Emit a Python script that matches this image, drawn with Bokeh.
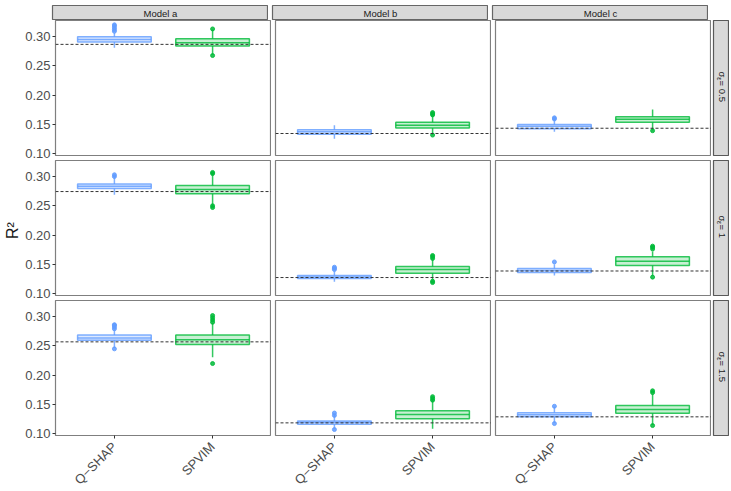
import math
from bokeh.plotting import figure
from bokeh.models import FactorRange, Range1d, Span, ColumnDataSource, FixedTicker, PrintfTickFormatter
from bokeh.layouts import row, column
from bokeh.core.properties import value
from bokeh.embed import file_html
from bokeh.resources import INLINE

# ---------------- data ----------------
models = ["Model a", "Model b", "Model c"]
sigmas = ["0.5", "1", "1.5"]
methods = ["Q\u2212SHAP", "SPVIM"]
colors = ["#619CFF", "#00BA38"]
yticks = [0.10, 0.15, 0.20, 0.25, 0.30]

# [sigma row][model col][method]
q1 = [
    [[0.2905, 0.2840], [0.1330, 0.1435], [0.1425, 0.1535]],
    [[0.2795, 0.2705], [0.1256, 0.1345], [0.1360, 0.1480]],
    [[0.2595, 0.2520], [0.1160, 0.1251], [0.1285, 0.1346]],
]
med = [
    [[0.2948, 0.2895], [0.1370, 0.1485], [0.1467, 0.1587]],
    [[0.2835, 0.2777], [0.1282, 0.1410], [0.1392, 0.1550]],
    [[0.2635, 0.2601], [0.1193, 0.1324], [0.1320, 0.1410]],
]
q3 = [
    [[0.2995, 0.2960], [0.1405, 0.1535], [0.1496, 0.1627]],
    [[0.2873, 0.2846], [0.1307, 0.1460], [0.1427, 0.1630]],
    [[0.2686, 0.2686], [0.1216, 0.1387], [0.1353, 0.1478]],
]
whisk_lo = [
    [[0.2807, 0.2690], [0.1251, 0.1320], [0.1370, 0.1395]],
    [[0.2690, 0.2480], [0.1200, 0.1220], [0.1310, 0.1300]],
    [[0.2460, 0.2303], [0.1080, 0.1080], [0.1180, 0.1145]],
]
whisk_hi = [
    [[0.3060, 0.3120], [0.1484, 0.1640], [0.1600, 0.1752]],
    [[0.3010, 0.3060], [0.1380, 0.1580], [0.1500, 0.1720]],
    [[0.2777, 0.2890], [0.1330, 0.1570], [0.1460, 0.1680]],
]
outliers = [
    [[[0.309, 0.312, 0.315, 0.318, 0.320], [0.2675, 0.313]],
     [[], [0.1315, 0.166, 0.168, 0.170]],
     [[0.159, 0.161], [0.139]]],
    [[[0.300, 0.303], [0.247, 0.250, 0.305, 0.307]],
     [[0.141, 0.143, 0.145], [0.1187, 0.121, 0.160, 0.163, 0.165]],
     [[0.154], [0.128, 0.176, 0.179, 0.181]]],
    [[[0.2447, 0.279, 0.282, 0.285, 0.286], [0.2196, 0.2902, 0.294, 0.298, 0.3017]],
     [[0.1068, 0.131, 0.135], [0.157, 0.160, 0.163]],
     [[0.117, 0.1466], [0.1136, 0.170, 0.173]]],
]
ref_line = [
    [0.2866, 0.1342, 0.1432],
    [0.2743, 0.1273, 0.1385],
    [0.2567, 0.1182, 0.1285],
]
y_lo, y_hi = 0.0966, 0.3274

FONT = value("Liberation Sans")
FW, FH = 216, 135
GAP = 5
TOP = 5
STRIP_H = 15
BOTTOM_LAST = 52
YLAB_W = 22


def panel(r, c):
    show_y = c == 0
    show_x = r == 2
    p = figure(
        x_range=FactorRange(factors=methods, range_padding=0.1, range_padding_units="absolute"),
        y_range=Range1d(y_lo, y_hi),
        frame_width=FW, frame_height=FH,
        min_border_left=30 if show_y else 4, min_border_right=0,
        min_border_top=0, min_border_bottom=BOTTOM_LAST if show_x else GAP,
        x_axis_location="below" if show_x else None,
        y_axis_location="left" if show_y else None,
        tools="", toolbar_location=None, output_backend="svg",
    )
    p.grid.visible = False
    p.outline_line_color = "#7F7F7F"
    p.outline_line_width = 1.2
    p.background_fill_color = "white"
    p.border_fill_color = "white"

    src = ColumnDataSource(dict(
        x=methods,
        q1=q1[r][c], med=med[r][c], q3=q3[r][c],
        lo=whisk_lo[r][c], hi=whisk_hi[r][c], color=colors,
    ))
    p.segment(x0="x", y0="q3", x1="x", y1="hi", source=src, line_color="color", line_width=1.5, line_alpha=0.8)
    p.segment(x0="x", y0="q1", x1="x", y1="lo", source=src, line_color="color", line_width=1.5, line_alpha=0.8)
    p.vbar(x="x", width=0.75, top="q3", bottom="q1", source=src,
           fill_color="color", fill_alpha=0.22, line_color="color", line_width=1.5, line_alpha=0.8)
    p.vbar(x="x", width=0.75, top="med", bottom="med", source=src,
           fill_color=None, line_color="color", line_width=1.5, line_alpha=0.8)
    for m in range(2):
        ys = outliers[r][c][m]
        if ys:
            p.scatter(x=[methods[m]] * len(ys), y=ys, size=4, color=colors[m], alpha=0.85)

    p.add_layout(Span(location=ref_line[r][c], dimension="width", line_dash="3 2",
                      line_color="#333333", line_width=1))

    if show_y:
        ax = p.yaxis[0]
        ax.ticker = FixedTicker(ticks=yticks)
        ax.formatter = PrintfTickFormatter(format="%.2f")
        ax.major_label_text_font = "Liberation Sans"
        ax.major_label_text_font_size = "13px"
        ax.major_label_text_color = "#4D4D4D"
        ax.major_tick_line_color = "#333333"
        ax.major_tick_out = 3
        ax.major_tick_in = 0
        ax.minor_tick_line_color = None
        ax.axis_line_color = None
        ax.major_label_standoff = 2
    if show_x:
        ax = p.xaxis[0]
        ax.major_label_orientation = math.pi / 4
        ax.major_label_text_font = "Liberation Sans"
        ax.major_label_text_font_size = "13px"
        ax.major_label_text_color = "#4D4D4D"
        ax.major_tick_line_color = "#333333"
        ax.major_tick_out = 3
        ax.major_tick_in = 0
        ax.axis_line_color = None
        ax.major_label_standoff = 6
    return p


def top_strip(c):
    p = figure(x_range=Range1d(0, 1), y_range=Range1d(0, 1),
               frame_width=FW, frame_height=STRIP_H,
               min_border_left=30 if c == 0 else 4, min_border_right=0,
               min_border_top=TOP, min_border_bottom=0,
               x_axis_location=None, y_axis_location=None,
               tools="", toolbar_location=None, output_backend="svg")
    p.grid.visible = False
    p.background_fill_color = "#D9D9D9"
    p.border_fill_color = "white"
    p.outline_line_color = "#666666"
    p.outline_line_width = 1.2
    p.text(x=[0.5], y=[0.45], text=[models[c]], text_align="center", text_baseline="middle",
           text_font=FONT, text_font_size="9.5px", text_color="#1A1A1A")
    return p


def side_strip(r):
    p = figure(x_range=Range1d(0, 16), y_range=Range1d(0, FH),
               frame_width=16, frame_height=FH,
               min_border_left=2, min_border_right=0,
               min_border_top=0, min_border_bottom=BOTTOM_LAST if r == 2 else GAP,
               x_axis_location=None, y_axis_location=None,
               tools="", toolbar_location=None, output_backend="svg")
    p.grid.visible = False
    p.background_fill_color = "#D9D9D9"
    p.border_fill_color = "white"
    p.outline_line_color = "#595959"
    p.outline_line_width = 1.2
    fs = 9.5
    rest = " = " + sigmas[r]
    w_sig, w_eps = 0.6 * fs, 3.4
    w_rest = fs * (0.278 + 0.584 + 0.278 + 0.556 * len(sigmas[r].replace(".", "")) + (0.278 if "." in sigmas[r] else 0))
    total = w_sig + w_eps + w_rest
    y0 = FH / 2 + total / 2
    ang = -math.pi / 2
    p.text(x=[8.5], y=[y0], text=["\u03c3"], angle=ang, text_align="left", text_baseline="middle",
           text_font=FONT, text_font_size=f"{fs}px", text_color="#1A1A1A")
    p.text(x=[6.0], y=[y0 - w_sig], text=["\u03b5"], angle=ang, text_align="left", text_baseline="middle",
           text_font=FONT, text_font_size="7px", text_color="#1A1A1A")
    p.text(x=[8.5], y=[y0 - w_sig - w_eps], text=[rest], angle=ang, text_align="left", text_baseline="middle",
           text_font=FONT, text_font_size=f"{fs}px", text_color="#1A1A1A")
    return p


total_h = TOP + STRIP_H + (FH + GAP) * 2 + FH + BOTTOM_LAST
ylab = figure(x_range=Range1d(0, YLAB_W), y_range=Range1d(0, total_h),
              frame_width=YLAB_W, frame_height=total_h,
              min_border_left=0, min_border_right=0, min_border_top=0, min_border_bottom=0,
              x_axis_location=None, y_axis_location=None,
              tools="", toolbar_location=None, output_backend="svg")
ylab.grid.visible = False
ylab.outline_line_color = None
ylab.text(x=[12], y=[total_h - 230], text=["R\u00b2"], angle=math.pi / 2,
          text_align="center", text_baseline="middle",
          text_font=FONT, text_font_size="16px", text_color="#1A1A1A")

rows = [row(*[top_strip(c) for c in range(3)])]
for r in range(3):
    rows.append(row(*[panel(r, c) for c in range(3)], side_strip(r)))

layout = row(ylab, column(*rows))

html = file_html(layout, INLINE, "chart")
open("out.html", "w").write(html)
